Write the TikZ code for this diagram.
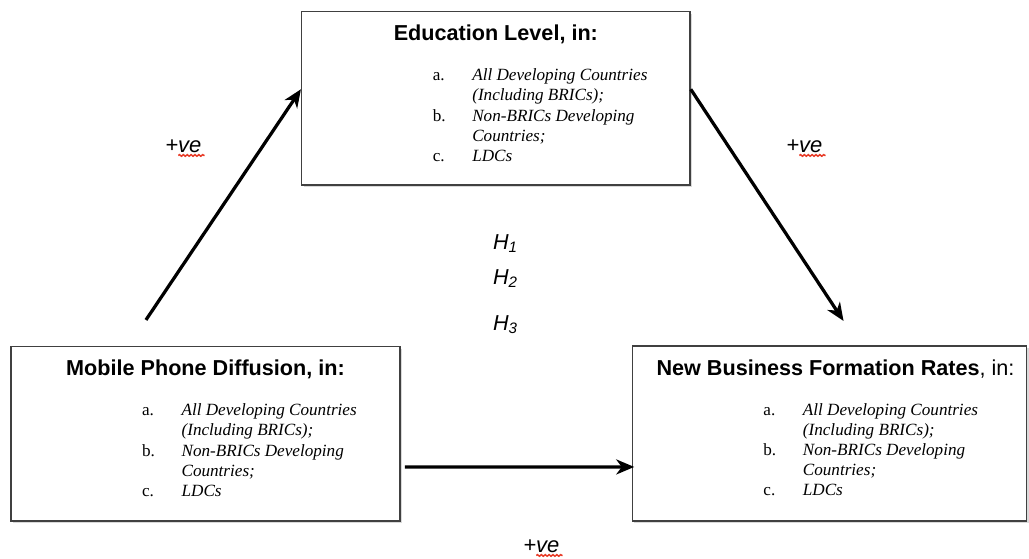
\documentclass[tikz,border=0pt]{standalone}
\usepackage{fontspec}
\setmainfont{Liberation Serif}
\setsansfont{Liberation Sans}
\usetikzlibrary{arrows.meta,shadows,decorations.pathmorphing}

% list of country groups, same in every box
\newcommand{\grouplist}{%
  \begin{tabular}[t]{@{}p{0.79cm}@{}l@{}}
  a. & \textit{All Developing Countries}\\
     & \textit{(Including BRICs);}\\
  b. & \textit{Non-BRICs Developing}\\
     & \textit{Countries;}\\
  c. & \textit{LDCs}
  \end{tabular}}

\begin{document}
\begin{tikzpicture}[
    varbox/.style={draw=r64g64b64, line width=0.03cm, fill=white, inner sep=0pt,
      drop shadow={shadow xshift=0.04cm, shadow yshift=-0.04cm, opacity=0.3}},
    boxtitle/.style={anchor=base, inner sep=0pt, font=\sffamily\fontsize{12.3}{14}\selectfont},
    boxlist/.style={anchor=base west, inner sep=0pt, font=\fontsize{9.75}{11.4}\selectfont},
    link/.style={line width=0.065cm, -{Stealth[length=0.36cm, width=0.30cm, inset=0.11cm]}},
    signlabel/.style={anchor=base west, inner sep=0pt, font=\sffamily\itshape\fontsize{12.5}{14}\selectfont},
    squiggle/.style={r232g60b40, line width=0.03cm, decorate,
      decoration={snake, amplitude=0.45pt, segment length=2.2pt}}]
                        \useasboundingbox (0,0) rectangle (20.580000,11.160000);
                        {

                        % Changing color 64 64 64
                        \definecolor{r64g64b64}{rgb}{0.250000,0.250000,0.250000}%
                        \definecolor{r232g60b40}{rgb}{0.909804,0.235294,0.156863}%

                        % Drawing box edu
                        \node (edu) [varbox, minimum width=7.766000cm, minimum height=3.466000cm] at (9.917000,9.193000) {};%
                        \node (eduTitle) [boxtitle] at ([yshift=-0.600000cm]edu.north) {\bfseries Education Level, in:};%
                        \node (eduList) [boxlist] at ([xshift=2.630000cm,yshift=-1.400000cm]edu.north west) {\grouplist};%

                        % Drawing box mob
                        \node (mob) [varbox, minimum width=7.780000cm, minimum height=3.486000cm] at (4.110000,2.483000) {};%
                        \node (mobTitle) [boxtitle] at ([yshift=-0.600000cm]mob.north) {\bfseries Mobile Phone Diffusion, in:};%
                        \node (mobList) [boxlist] at ([xshift=2.630000cm,yshift=-1.400000cm]mob.north west) {\grouplist};%

                        % Drawing box biz
                        \node (biz) [varbox, minimum width=7.888000cm, minimum height=3.500000cm] at (16.590000,2.490000) {};%
                        \node (bizTitle) [boxtitle] at ([xshift=0.120000cm,yshift=-0.600000cm]biz.north) {\textbf{New Business Formation Rates}, in:};%
                        \node (bizList) [boxlist] at ([xshift=2.630000cm,yshift=-1.400000cm]biz.north west) {\grouplist};%

                        % Marking arrow ends
                        \coordinate (mobUp) at ([xshift=2.714000cm,yshift=0.520000cm]mob.north west);%
                        \coordinate (eduIn) at ([yshift=-1.566000cm]edu.north west);%
                        \coordinate (eduOut) at ([yshift=-1.566000cm]edu.north east);%
                        \coordinate (bizDown) at ([xshift=4.240000cm,yshift=0.486000cm]biz.north west);%
                        \coordinate (mobOut) at ([xshift=0.080000cm,yshift=-2.420000cm]mob.north east);%
                        \coordinate (bizIn) at ([xshift=0.054000cm,yshift=-2.434000cm]biz.north west);%

                        % Drawing arrows
                        \draw [link] (mobUp) -- (eduIn);%
                        \draw [link] (eduOut) -- (bizDown);%
                        \draw [link] (mobOut) -- (bizIn);%

                        % Marking signs +ve
                        \node (signL) [signlabel] at (3.300000,8.106000) {+ve};%
                        \node (signR) [signlabel] at (15.720000,8.106000) {+ve};%
                        \node (signB) [signlabel] at (10.460000,0.106000) {+ve};%
                        \foreach \s in {signL,signR,signB}
                          \draw [squiggle] ([xshift=0.266000cm,yshift=-0.055000cm]\s.base west) -- ([xshift=0.060000cm,yshift=-0.055000cm]\s.base east);%

                        % Marking hypotheses
                        \node (hypA) [signlabel, font=\sffamily\itshape\fontsize{12.3}{14}\selectfont] at (9.854000,6.174000) {H\textsubscript{1}};%
                        \node (hypB) [signlabel, font=\sffamily\itshape\fontsize{12.3}{14}\selectfont] at (9.854000,5.480000) {H\textsubscript{2}};%
                        \node (hypC) [signlabel, font=\sffamily\itshape\fontsize{12.3}{14}\selectfont] at (9.854000,4.560000) {H\textsubscript{3}};%
                        \color{black}
                        }
                    \end{tikzpicture}
\end{document}
